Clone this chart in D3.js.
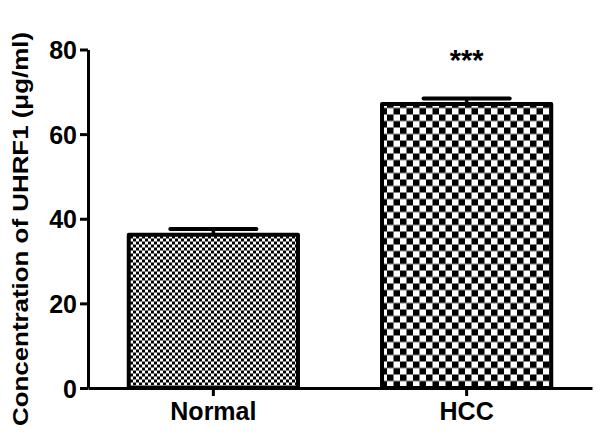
<!DOCTYPE html>
<html>
<head>
<meta charset="utf-8">
<script src="https://cdnjs.cloudflare.com/ajax/libs/d3/7.8.5/d3.min.js"></script>
<style>
  body { margin: 0; background: #fff; }
  svg text { font-family: Arial, "Liberation Sans", sans-serif; font-weight: bold; fill: #000; }
</style>
</head>
<body>
<svg id="chart" width="600" height="435"></svg>
<script>
// Data
const groups = ["Normal", "HCC"];
const means = [36.2, 67.1];
const errors = [1.4, 1.3];
const yTicks = [0, 20, 40, 60, 80];
const marks = ["", "***"];
const yLabel = "Concentration of UHRF1 (\u03bcg/ml)";

const svg = d3.select("#chart");
const margin = { top: 49.5, right: 8, bottom: 47, left: 88 };
const width = 600;
const height = 435;
const innerWidth = width - margin.left - margin.right;
const innerHeight = height - margin.top - margin.bottom;

// checker patterns: fine for Normal, coarse for HCC
const defs = svg.append("defs");
const makeChecker = (id, cell) => {
  const p = defs.append("pattern")
    .attr("id", id)
    .attr("patternUnits", "userSpaceOnUse")
    .attr("width", cell * 2)
    .attr("height", cell * 2);
  p.append("rect").attr("width", cell * 2).attr("height", cell * 2).attr("fill", "#fff");
  p.append("rect").attr("width", cell).attr("height", cell).attr("fill", "#000");
  p.append("rect").attr("x", cell).attr("y", cell).attr("width", cell).attr("height", cell).attr("fill", "#000");
};
makeChecker("fine", 3);
makeChecker("coarse", 6.5);
const fills = ["url(#fine)", "url(#coarse)"];

const g = svg.append("g")
  .attr("transform", `translate(${margin.left},${margin.top})`);

const x = d3.scaleBand()
  .domain(groups)
  .range([0, innerWidth])
  .paddingInner(0.32)
  .paddingOuter(0.155);

const y = d3.scaleLinear().domain([0, 80]).range([innerHeight, 0]);

const data = groups.map((d, i) => ({ group: d, mean: means[i], err: errors[i], fill: fills[i], mark: marks[i] }));

// error bars (upper only, drawn under the bar outline)
const capHalf = x.bandwidth() / 4;
const eb = g.selectAll(".err").data(data).enter().append("g").attr("class", "err");
eb.append("line")
  .attr("x1", (d) => x(d.group) + x.bandwidth() / 2)
  .attr("x2", (d) => x(d.group) + x.bandwidth() / 2)
  .attr("y1", (d) => y(d.mean))
  .attr("y2", (d) => y(d.mean + d.err))
  .attr("stroke", "#000")
  .attr("stroke-width", 3.5);
eb.append("line")
  .attr("x1", (d) => x(d.group) + x.bandwidth() / 2 - capHalf)
  .attr("x2", (d) => x(d.group) + x.bandwidth() / 2 + capHalf)
  .attr("y1", (d) => y(d.mean + d.err))
  .attr("y2", (d) => y(d.mean + d.err))
  .attr("stroke", "#000")
  .attr("stroke-width", 4)
  .attr("stroke-linecap", "round");

// bars
g.selectAll(".bar")
  .data(data)
  .enter()
  .append("rect")
  .attr("class", "bar")
  .attr("x", (d) => x(d.group) + 1.5)
  .attr("y", (d) => y(d.mean))
  .attr("width", x.bandwidth() - 3)
  .attr("height", (d) => innerHeight - y(d.mean))
  .attr("fill", (d) => d.fill)
  .attr("stroke", "#000")
  .attr("stroke-width", 4)
  .attr("stroke-linejoin", "round");

// significance stars (only where there is a mark)
g.selectAll(".mark")
  .data(data.filter((d) => d.mark))
  .enter()
  .append("text")
  .attr("class", "mark")
  .attr("x", (d) => x(d.group) + x.bandwidth() / 2)
  .attr("y", 20)
  .attr("text-anchor", "middle")
  .style("font-size", "29px")
  .text((d) => d.mark);

// y axis
const yAxis = g.append("g")
  .call(d3.axisLeft(y).tickValues(yTicks).tickSize(8).tickSizeOuter(0).tickPadding(3));
yAxis.select(".domain").attr("stroke-width", 3);
yAxis.selectAll(".tick line").attr("stroke-width", 3);
yAxis.selectAll(".tick text").style("font-size", "25px").attr("dy", "0.36em");

// x axis
const xAxis = g.append("g")
  .attr("transform", `translate(0,${innerHeight})`)
  .call(d3.axisBottom(x).tickSize(8).tickSizeOuter(0).tickPadding(6));
xAxis.select(".domain").attr("stroke-width", 3);
xAxis.selectAll(".tick line").attr("stroke-width", 3);
xAxis.selectAll(".tick text").style("font-size", "25px");

// y axis label
svg.append("text")
  .attr("transform", "rotate(-90)")
  .attr("x", -229)
  .attr("y", 28)
  .attr("text-anchor", "middle")
  .attr("textLength", 394)
  .attr("lengthAdjust", "spacingAndGlyphs")
  .style("font-size", "22px")
  .text(yLabel);
</script>
</body>
</html>
